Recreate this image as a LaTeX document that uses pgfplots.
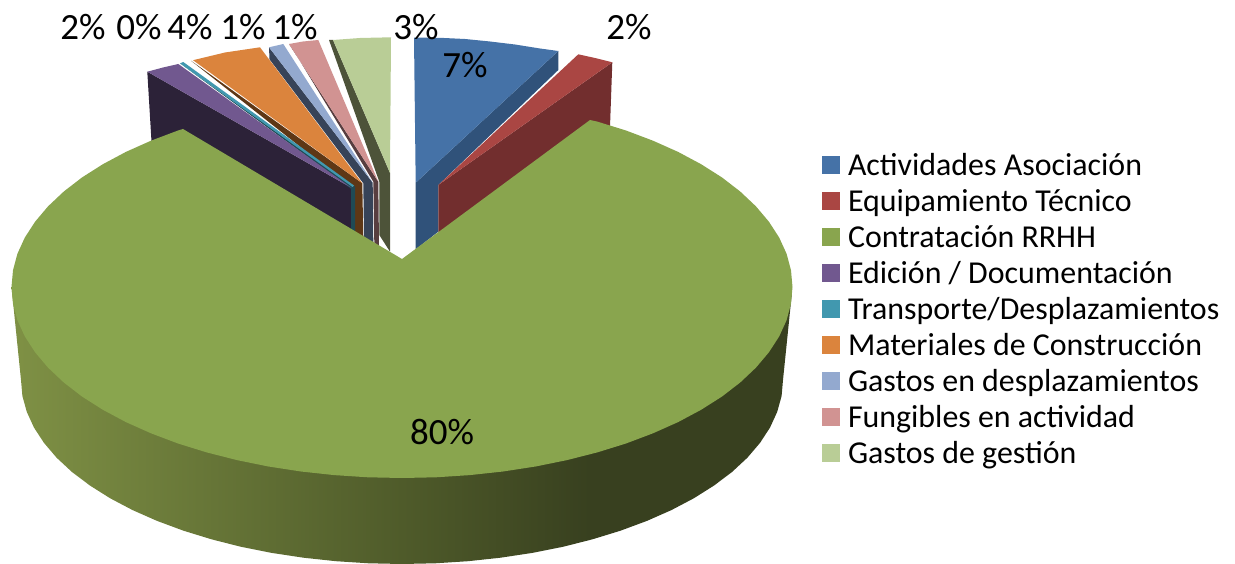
\documentclass[border=0pt]{standalone}
\usepackage{pgfplots}
\pgfplotsset{compat=1.18}
\usepackage{fontspec}
\setmainfont{Carlito}
\definecolor{cA}{HTML}{4572A7}\definecolor{cB}{HTML}{AA4643}\definecolor{cC}{HTML}{89A54E}
\definecolor{cD}{HTML}{71588F}\definecolor{cE}{HTML}{4198AF}\definecolor{cF}{HTML}{DB843D}
\definecolor{cG}{HTML}{93A9CF}\definecolor{cH}{HTML}{D19392}\definecolor{cI}{HTML}{B9CD96}
\definecolor{dA}{HTML}{30527A}\definecolor{dB}{HTML}{722E2E}\definecolor{dD}{HTML}{2C2238}
\definecolor{dE}{HTML}{1F4A55}\definecolor{dF}{HTML}{5E3715}\definecolor{dG}{HTML}{374358}
\definecolor{dH}{HTML}{583E40}\definecolor{dI}{HTML}{4D5339}
\definecolor{g0}{HTML}{7F9145}\definecolor{g1}{HTML}{4F5B2A}\definecolor{g2}{HTML}{38401F}
\pgfdeclarehorizontalshading{sidegreen}{100bp}{color(0bp)=(g0); color(25bp)=(g0); color(50bp)=(g1); color(62bp)=(g2); color(100bp)=(g2)}
\begin{document}
\begin{tikzpicture}
\begin{axis}[
  scale only axis, width=1235pt, height=564pt,
  xmin=0, xmax=1235, ymin=0, ymax=564, y dir=reverse,
  hide axis, clip=false,
  legend cell align=left,
  legend style={at={(axis cs:822,151)}, anchor=north west, draw=none, fill=none,
    font=\fontsize{31.9}{36}\selectfont, row sep=0pt, inner sep=0pt, outer sep=0pt,
    nodes={text height=24pt, text depth=12pt, inner sep=0pt, inner xsep=4pt}},
  legend image code/.code={\fill[#1] (0pt,-4.5pt) rectangle (18pt,13.5pt);\path (22pt,0pt);},
]
% dark sides
\addplot[draw=none, fill=dA, forget plot] coordinates {(415.7,182.7)(558.3,51)(558.3,70)(438.3,185)(438.3,231.7)(415.7,249.3)};
\addplot[draw=none, fill=dB, forget plot] coordinates {(438.3,185)(612.3,62.3)(610,127)(590,122)(438.3,233)};
\addplot[draw=none, fill=dD, forget plot] coordinates {(147.3,71.7)(351.7,188)(353,240)(152,150)};
\addplot[draw=none, fill=dF, forget plot] coordinates {(191,60.7)(362.3,183.3)(363.3,238)(355,233)(355,190)};
\addplot[draw=none, fill=dE, forget plot] coordinates {(351,188)(355,186)(355,234)(351,232)};
\addplot[draw=none, fill=dE, forget plot] coordinates {(180,63.3)(354,187)(351.7,189.3)};
\addplot[draw=none, fill=dG, forget plot] coordinates {(269,47.3)(269.5,59.3)(363.3,183.3)(364,238)(373.3,243)(372.7,182.7)};
\addplot[draw=none, fill=dH, forget plot] coordinates {(289,44)(293.3,50)(373.3,181.7)(374.3,243)(379,246)(378.3,181.7)};
\addplot[draw=none, fill=dI, forget plot] coordinates {(329,40)(379.3,181.7)(379.3,235)(390,251.7)(390,173)(333,40)};
% green side wall
\addplot[draw=none, shading=sidegreen, forget plot] coordinates {
(792.5,287)(783,380)(781.6,396)(777.2,411.9)(770,427.6)(760,442.9)(747.3,457.8)(732,472)(714.1,485.5)(693.8,498.3)
(671.4,510.1)(646.9,520.9)(620.5,530.7)(592.5,539.3)(563,546.8)(532.3,552.9)(500.6,557.7)(468.1,561.2)(435.2,563.3)(402,564)
(368.8,563.3)(335.9,561.2)(303.4,557.7)(271.7,552.9)(241,546.8)(211.5,539.3)(183.5,530.7)(157.1,520.9)(132.6,510.1)(110.2,498.3)
(89.9,485.5)(72,472)(56.7,457.8)(44,442.9)(34,427.6)(26.8,411.9)(22.4,396)(21,380)(11.5,287)};
% slice tops
\addplot[draw=none, fill=cA] coordinates {(414,37.7)(440,37.8)(465,39)(490,41.5)(515,44.5)(540,48.5)(558.3,51)(415.7,182.7)};
\addlegendentry{Actividades Asociación}
\addplot[draw=none, fill=cB] coordinates {(578.3,54.3)(595,58)(612.3,62.3)(438.3,185)};
\addlegendentry{Equipamiento Técnico}
\addplot[draw=none, fill=cC] coordinates {
(792.5,287)(791,303.7)(786.6,320.2)(779.2,336.4)(768.9,352.3)(755.9,367.7)(740.2,382.5)(721.9,396.6)(701.1,409.8)(678.1,422.1)
(653,433.3)(626,443.5)(597.3,452.4)(567,460.1)(535.6,466.5)(503.1,471.5)(469.8,475.1)(436.1,477.3)(402,478)
(367.9,477.3)(334.2,475.1)(300.9,471.5)(268.4,466.5)(237,460.1)(206.7,452.4)(178,443.5)(151,433.3)(125.9,422.1)(102.9,409.8)
(82.1,396.6)(63.8,382.5)(48.1,367.7)(35.1,352.3)(24.8,336.4)(17.4,320.2)(13,303.7)(11.5,287)
(13,270.3)(17.4,253.8)(24.8,237.6)(35.1,221.7)(48.1,206.3)(63.8,191.5)(82.1,177.4)(102.9,164.2)(125.9,151.9)(151,140.7)(178,130.5)(183,129)
(402,259)(590,120)(597.3,121.6)(626,130.5)(653,140.7)(678.1,151.9)(701.1,164.2)(721.9,177.4)(740.2,191.5)(755.9,206.3)(768.9,221.7)(779.2,237.6)(786.6,253.8)(791,270.3)};
\addlegendentry{Contratación RRHH}
\addplot[draw=none, fill=cD] coordinates {(147.3,71.7)(163,67.5)(178.3,64)(351.7,188)};
\addlegendentry{Edición / Documentación}
\addplot[draw=none, fill=cE] coordinates {(180,63.3)(183.3,62)(354,185.5)(352.5,187)};
\addlegendentry{Transporte/Desplazamientos}
\addplot[draw=none, fill=cF] coordinates {(193,60.2)(225,52.5)(260,47.3)(362.3,183.3)};
\addlegendentry{Materiales de Construcción}
\addplot[draw=none, fill=cG] coordinates {(269,47.3)(283.3,44)(372.7,182.7)};
\addlegendentry{Gastos en desplazamientos}
\addplot[draw=none, fill=cH] coordinates {(289,44)(303,41.5)(318.3,40)(378.3,181.7)};
\addlegendentry{Fungibles en actividad}
\addplot[draw=none, fill=cI] coordinates {(333,40)(360,38)(391,37.3)(390,173)};
\addlegendentry{Gastos de gestión}
% data labels
\node[font=\fontsize{37}{40}\selectfont, anchor=center] at (axis cs:83,27) {2\%};
\node[font=\fontsize{37}{40}\selectfont, anchor=center] at (axis cs:139,27) {0\%};
\node[font=\fontsize{37}{40}\selectfont, anchor=center] at (axis cs:190,27) {4\%};
\node[font=\fontsize{37}{40}\selectfont, anchor=center] at (axis cs:243,27) {1\%};
\node[font=\fontsize{37}{40}\selectfont, anchor=center] at (axis cs:295,27) {1\%};
\node[font=\fontsize{37}{40}\selectfont, anchor=center] at (axis cs:416,27) {3\%};
\node[font=\fontsize{37}{40}\selectfont, anchor=center] at (axis cs:629,27) {2\%};
\node[font=\fontsize{37}{40}\selectfont, anchor=center] at (axis cs:465,65) {7\%};
\node[font=\fontsize{37}{40}\selectfont, anchor=center] at (axis cs:442,432) {80\%};
\end{axis}
\path[use as bounding box] (0,0) rectangle (1235pt,564pt);
\end{tikzpicture}
\end{document}
